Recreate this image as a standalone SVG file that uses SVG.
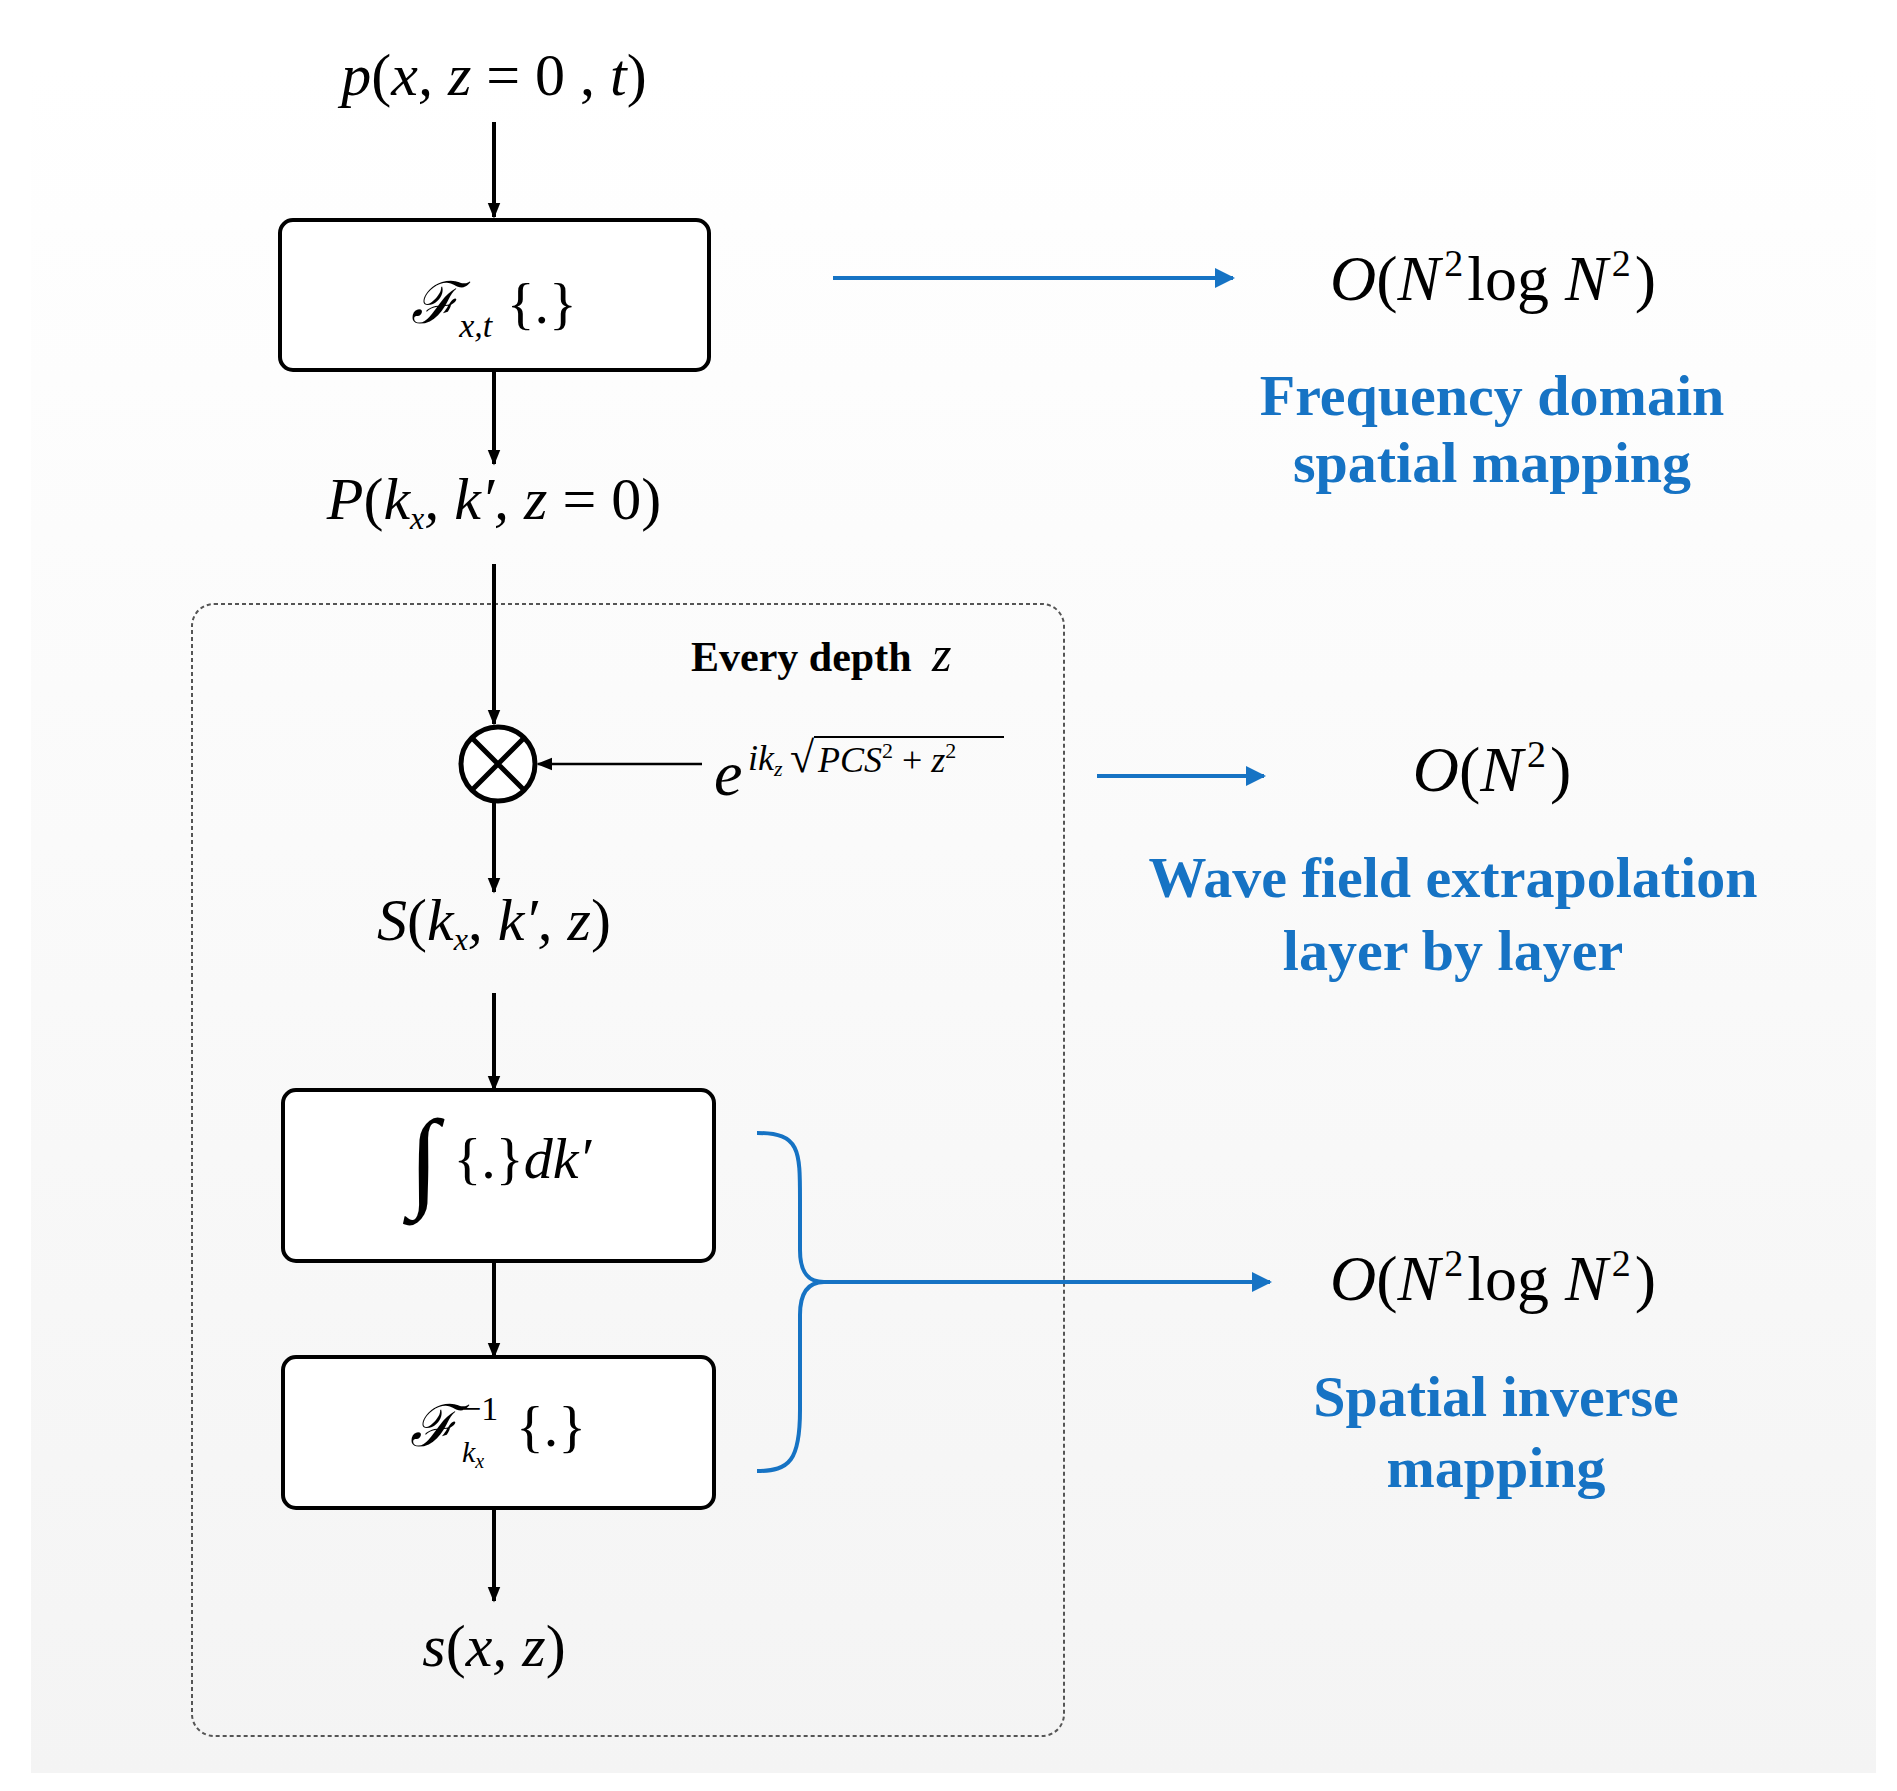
<svg xmlns="http://www.w3.org/2000/svg" width="1897" height="1791" viewBox="0 0 1897 1791">
<defs>
<linearGradient id="bg" x1="0" y1="0" x2="0" y2="1"><stop offset="0" stop-color="#ffffff"/><stop offset="1" stop-color="#f4f4f4"/></linearGradient>
<marker id="ab" viewBox="0 0 10 10" refX="9" refY="5" markerWidth="5" markerHeight="5" orient="auto"><path d="M0,0 L10,5 L0,10 z" fill="#1673c4"/></marker>
<marker id="as" viewBox="0 0 10 10" refX="9" refY="5" markerWidth="16" markerHeight="16" orient="auto" markerUnits="userSpaceOnUse"><path d="M0,1 L10,5 L0,9 z" fill="#000"/></marker>
</defs>
<style>
.m{font-family:"Liberation Serif",serif;font-style:italic;fill:#000}
.r{font-style:normal}
.b{font-family:"Liberation Serif",serif;font-weight:bold;fill:#1673c4;font-size:58px;text-anchor:middle}
.box{fill:#fff;stroke:#000;stroke-width:4}
.k{stroke:#000;stroke-width:4;fill:none}
.bl{stroke:#1673c4;stroke-width:4;fill:none}
</style>
<rect x="0" y="0" width="1897" height="1791" fill="#fff"/>
<rect x="31" y="67" width="1845" height="1706" fill="url(#bg)"/>
<rect x="192" y="604" width="872" height="1132" rx="22" fill="none" stroke="#555" stroke-width="2" stroke-dasharray="4,3"/>
<g id="connectors">
<line class="k" x1="494" y1="122" x2="494" y2="217" marker-end="url(#as)"/>
<line class="k" x1="494" y1="370" x2="494" y2="464" marker-end="url(#as)"/>
<line class="k" x1="494" y1="564" x2="494" y2="724" marker-end="url(#as)"/>
<line stroke="#000" stroke-width="2.5" x1="702" y1="764" x2="538" y2="764" marker-end="url(#as)"/>
<line class="k" x1="494" y1="802" x2="494" y2="892" marker-end="url(#as)"/>
<line class="k" x1="494" y1="993" x2="494" y2="1090" marker-end="url(#as)"/>
<line class="k" x1="494" y1="1261" x2="494" y2="1357" marker-end="url(#as)"/>
<line class="k" x1="494" y1="1508" x2="494" y2="1601" marker-end="url(#as)"/>
<line class="bl" x1="833" y1="278" x2="1233" y2="278" marker-end="url(#ab)"/>
<line class="bl" x1="1097" y1="776" x2="1264" y2="776" marker-end="url(#ab)"/>
<path class="bl" d="M757,1133 C800,1133 800,1150 800,1200 L800,1250 C800,1275 810,1282 824,1282 C810,1282 800,1290 800,1315 L800,1410 C800,1460 790,1471 757,1471"/>
<line class="bl" x1="824" y1="1282" x2="1270" y2="1282" marker-end="url(#ab)"/>
</g>
<g id="input"><text class="m" x="494" y="95" font-size="60" text-anchor="middle">p<tspan class="r">(</tspan>x, z <tspan class="r">= 0 ,</tspan> t<tspan class="r">)</tspan></text></g>
<g id="fft"><rect class="box" x="280" y="220" width="429" height="150" rx="13"/>
<text class="m" x="494" y="323" font-size="58" text-anchor="middle">ℱ<tspan font-size="34" dy="14">x,t</tspan><tspan class="r" dy="-14"> {.}</tspan></text></g>
<g id="P"><text class="m" x="494" y="519" font-size="60" text-anchor="middle">P<tspan class="r">(</tspan>k<tspan font-size="32" dy="10">x</tspan><tspan dy="-10">, k′, z </tspan><tspan class="r">= 0)</tspan></text></g>
<g id="mult"><circle cx="498" cy="764" r="37" fill="#fff" stroke="#000" stroke-width="5"/>
<path d="M472,738 L524,790 M524,738 L472,790" stroke="#000" stroke-width="5"/></g>
<g id="phase"><text class="m" x="714" y="795" font-size="64">e</text>
<text class="m" x="748" y="770" font-size="36">ik<tspan font-size="22" dy="6">z</tspan></text>
<text x="790" y="772" font-family="Liberation Serif,serif" font-size="44">√</text>
<line x1="814" y1="737" x2="1004" y2="737" stroke="#000" stroke-width="2"/>
<text class="m" x="818" y="772" font-size="36">PCS<tspan class="r" font-size="22" dy="-14">2</tspan><tspan class="r" dy="14"> + </tspan>z<tspan class="r" font-size="22" dy="-14">2</tspan></text></g>
<g id="everydepth"><text x="691" y="671" font-family="Liberation Serif,serif" font-weight="bold" font-size="42">Every depth <tspan font-style="italic" font-weight="normal" font-size="50" dx="10">z</tspan></text></g>
<g id="S"><text class="m" x="494" y="940" font-size="60" text-anchor="middle">S<tspan class="r">(</tspan>k<tspan font-size="32" dy="10">x</tspan><tspan dy="-10">, k′, z</tspan><tspan class="r">)</tspan></text></g>
<g id="integral"><rect class="box" x="283" y="1090" width="431" height="171" rx="13"/>
<text class="m" x="500" y="1178" font-size="58" text-anchor="middle"><tspan font-size="110" dy="18">∫</tspan><tspan class="r" dy="-18"> {.}</tspan>dk′</text></g>
<g id="ifft"><rect class="box" x="283" y="1357" width="431" height="151" rx="13"/>
<text class="m" x="410" y="1446" font-size="58">ℱ</text>
<text class="r" x="462" y="1420" font-family="Liberation Serif,serif" font-size="34">−1</text>
<text class="m" x="462" y="1462" font-size="30">k<tspan font-size="20" dy="6">x</tspan></text>
<text class="r" x="516" y="1446" font-family="Liberation Serif,serif" font-size="58">{.}</text></g>
<g id="output"><text class="m" x="494" y="1666" font-size="60" text-anchor="middle">s<tspan class="r">(</tspan>x, z<tspan class="r">)</tspan></text></g>
<g id="c1"><text class="m" x="1493" y="300" font-size="64" text-anchor="middle">O<tspan class="r">(</tspan>N<tspan class="r" font-size="38" dy="-24" dx="4">2</tspan><tspan class="r" dy="24" dx="4">log</tspan> N<tspan class="r" font-size="38" dy="-24" dx="4">2</tspan><tspan class="r" dy="24" dx="4">)</tspan></text>
<text class="b" x="1492" y="415">Frequency domain</text><text class="b" x="1492" y="482">spatial mapping</text></g>
<g id="c2"><text class="m" x="1492" y="791" font-size="64" text-anchor="middle">O<tspan class="r">(</tspan>N<tspan class="r" font-size="38" dy="-24" dx="4">2</tspan><tspan class="r" dy="24" dx="4">)</tspan></text>
<text class="b" x="1453" y="897">Wave field extrapolation</text><text class="b" x="1453" y="970">layer by layer</text></g>
<g id="c3"><text class="m" x="1493" y="1300" font-size="64" text-anchor="middle">O<tspan class="r">(</tspan>N<tspan class="r" font-size="38" dy="-24" dx="4">2</tspan><tspan class="r" dy="24" dx="4">log</tspan> N<tspan class="r" font-size="38" dy="-24" dx="4">2</tspan><tspan class="r" dy="24" dx="4">)</tspan></text>
<text class="b" x="1496" y="1416">Spatial inverse</text><text class="b" x="1496" y="1487">mapping</text></g>
</svg>
